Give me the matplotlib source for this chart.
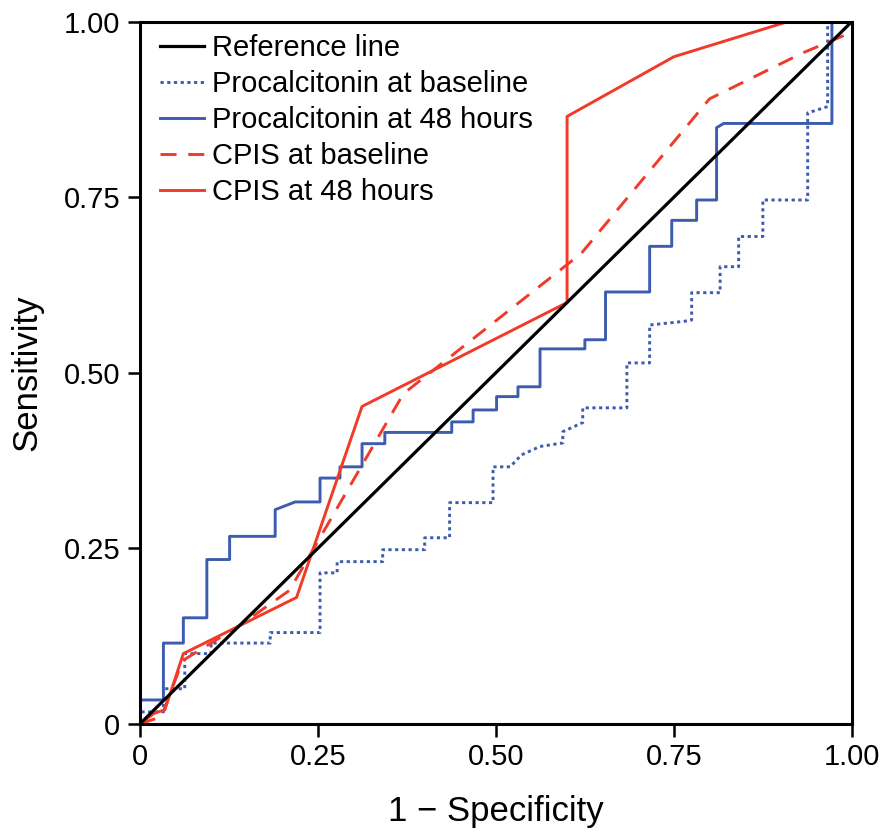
import matplotlib
matplotlib.use("Agg")
import matplotlib.pyplot as plt

plt.rcParams["font.family"] = ["Liberation Sans", "DejaVu Sans"]

# ROC curves (1 - specificity, sensitivity)
ref_x = [0, 1]
ref_y = [0, 1]

pct_base_x = [0, 0, 0.033, 0.033, 0.063, 0.063, 0.1, 0.1, 0.183, 0.183, 0.253, 0.253,
              0.277, 0.277, 0.341, 0.341, 0.4, 0.4, 0.435, 0.435, 0.496, 0.496, 0.52,
              0.536, 0.562, 0.594, 0.594, 0.622, 0.622, 0.684, 0.684, 0.716, 0.716,
              0.763, 0.775, 0.775, 0.815, 0.815, 0.841, 0.841, 0.875, 0.875, 0.938,
              0.938, 0.966, 0.966, 1.0]
pct_base_y = [0, 0.017, 0.017, 0.05, 0.05, 0.1, 0.1, 0.115, 0.115, 0.13, 0.13, 0.215,
              0.215, 0.231, 0.231, 0.248, 0.248, 0.265, 0.265, 0.315, 0.315, 0.366, 0.366,
              0.383, 0.395, 0.4, 0.416, 0.429, 0.45, 0.45, 0.514, 0.514, 0.568,
              0.573, 0.575, 0.614, 0.614, 0.651, 0.651, 0.694, 0.694, 0.746, 0.746,
              0.87, 0.879, 1.0, 1.0]

pct_48_x = [0, 0, 0.033, 0.033, 0.061, 0.061, 0.094, 0.094, 0.126, 0.126, 0.19, 0.19,
            0.218, 0.253, 0.253, 0.281, 0.281, 0.312, 0.312, 0.344, 0.344, 0.438, 0.438,
            0.468, 0.468, 0.501, 0.501, 0.531, 0.531, 0.562, 0.562, 0.625, 0.625, 0.654,
            0.654, 0.716, 0.716, 0.747, 0.747, 0.782, 0.782, 0.81, 0.81, 0.82, 0.972,
            0.972, 1.0]
pct_48_y = [0, 0.034, 0.034, 0.115, 0.115, 0.151, 0.151, 0.234, 0.234, 0.267, 0.267, 0.305,
            0.316, 0.316, 0.35, 0.35, 0.366, 0.366, 0.399, 0.399, 0.415, 0.415, 0.43,
            0.43, 0.447, 0.447, 0.466, 0.466, 0.48, 0.48, 0.534, 0.534, 0.547, 0.547,
            0.615, 0.615, 0.68, 0.68, 0.717, 0.717, 0.746, 0.746, 0.849, 0.855, 0.855,
            1.0, 1.0]

cpis_base_x = [0, 0.03, 0.06, 0.14, 0.21, 0.37, 0.62, 0.8, 0.93, 1.0]
cpis_base_y = [0, 0.01, 0.09, 0.14, 0.19, 0.47, 0.67, 0.89, 0.955, 0.985]

cpis_48_x = [0, 0.02, 0.035, 0.061, 0.22, 0.312, 0.6, 0.6, 0.75, 0.91, 1.0]
cpis_48_y = [0, 0.015, 0.02, 0.1, 0.18, 0.452, 0.6, 0.865, 0.95, 1.0, 1.0]

labels = ["Reference line", "Procalcitonin at baseline", "Procalcitonin at 48 hours",
          "CPIS at baseline", "CPIS at 48 hours"]
ticks = [0, 0.25, 0.5, 0.75, 1.0]
tick_labels = ["0", "0.25", "0.50", "0.75", "1.00"]

blue = "#3d5cb0"
red = "#f23a28"

fig = plt.figure(figsize=(8.8, 8.32), dpi=100)
ax = fig.add_axes([0.159, 0.130, 0.809, 0.844])

ax.plot(pct_base_x, pct_base_y, color=blue, lw=2.1, linestyle=(0, (1.1, 1.2)), label=labels[1])
ax.plot(pct_48_x, pct_48_y, color=blue, lw=2.1, label=labels[2])
ax.plot(cpis_base_x, cpis_base_y, color=red, lw=2.1, linestyle=(0, (5.5, 4)), label=labels[3])
ax.plot(cpis_48_x, cpis_48_y, color=red, lw=2.1, label=labels[4])
ax.plot(ref_x, ref_y, color="black", lw=2.3, label=labels[0])

ax.set_xlim(0, 1)
ax.set_ylim(0, 1)
ax.set_xticks(ticks)
ax.set_xticklabels(tick_labels)
ax.set_yticks(ticks)
ax.set_yticklabels(tick_labels)
ax.tick_params(direction="out", length=9, width=1.8, labelsize=21, pad=5)
for s in ax.spines.values():
    s.set_linewidth(2.2)

ax.set_xlabel("1 \u2212 Specificity", fontsize=25, labelpad=17)
ax.set_ylabel("Sensitivity", fontsize=25, labelpad=15)

h, l = ax.get_legend_handles_labels()
order = [4, 0, 1, 2, 3]
ax.legend([h[i] for i in order], [l[i] for i in order], loc="upper left",
          frameon=False, fontsize=21, handlelength=1.5, handletextpad=0.3,
          labelspacing=0.27, borderaxespad=0.35, borderpad=0.33,
          bbox_to_anchor=(0.0, 1.01))

fig.savefig("out.png", dpi=100)
